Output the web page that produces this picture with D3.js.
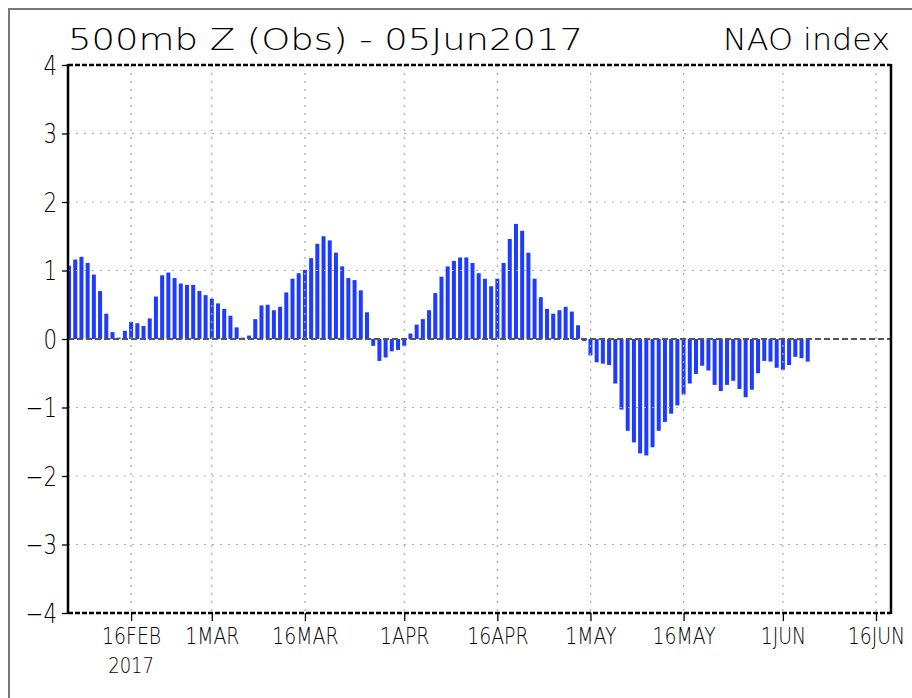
<!DOCTYPE html>
<html>
<head>
<meta charset="utf-8">
<script src="https://cdn.jsdelivr.net/npm/d3@7"></script>
<style>
  body { margin: 0; background: #fff; }
  svg { display: block; }
  text { font-family: "DejaVu Sans", sans-serif; font-weight: 200; fill: #000; }
</style>
</head>
<body>
<div id="wrapper"></div>
<script>
// daily NAO index, 6 Feb 2017 .. 5 Jun 2017
const firstDay = new Date(2017, 1, 6);
const naoValues = [
  1.07, 1.16, 1.20, 1.11, 0.94, 0.70, 0.37, 0.10, 0.02, 0.12,
  0.25, 0.23, 0.19, 0.30, 0.62, 0.93, 0.97, 0.89, 0.81, 0.79,
  0.79, 0.70, 0.64,
  // March
  0.59, 0.52, 0.44, 0.34, 0.17, 0.02, 0.05, 0.29, 0.49, 0.50,
  0.42, 0.47, 0.68, 0.88, 0.96, 1.01, 1.18, 1.39, 1.50, 1.44,
  1.26, 1.06, 0.89, 0.86, 0.71, 0.39, -0.10, -0.32, -0.27, -0.18,
  -0.16,
  // April
  -0.10, 0.08, 0.21, 0.29, 0.42, 0.67, 0.91, 1.06, 1.14, 1.19,
  1.19, 1.11, 0.96, 0.88, 0.77, 0.88, 1.11, 1.46, 1.68, 1.58,
  1.26, 0.88, 0.61, 0.44, 0.37, 0.42, 0.47, 0.40, 0.20, -0.03,
  // May
  -0.24, -0.34, -0.36, -0.38, -0.65, -1.03, -1.34, -1.51, -1.67, -1.70,
  -1.58, -1.34, -1.21, -1.09, -0.97, -0.81, -0.65, -0.51, -0.39, -0.46,
  -0.67, -0.76, -0.67, -0.61, -0.73, -0.85, -0.74, -0.50, -0.32, -0.33,
  -0.42,
  // June
  -0.45, -0.38, -0.26, -0.28, -0.33
];
const xTickDates = ['2017-02-16', '2017-03-01', '2017-03-16', '2017-04-01', '2017-04-16',
  '2017-05-01', '2017-05-16', '2017-06-01', '2017-06-16'];
const xTickLabels = ['16FEB', '1MAR', '16MAR', '1APR', '16APR', '1MAY', '16MAY', '1JUN', '16JUN'];
const yTicks = [-4, -3, -2, -1, 0, 1, 2, 3, 4];
const titleLeft = '500mb Z (Obs) - 05Jun2017';
const titleRight = 'NAO index';
const yearLabel = '2017';

const parseDay = d3.timeParse('%Y-%m-%d');
const dataset = naoValues.map((v, i) => ({ date: d3.timeDay.offset(firstDay, i), value: v }));

const dimensions = {
  width: 912,
  height: 698,
  left: 68,
  right: 891,
  top: 65,
  bottom: 613,
};

const wrapper = d3.select('#wrapper')
  .append('svg')
  .attr('width', dimensions.width)
  .attr('height', dimensions.height);

// outer gray frame
wrapper.append('rect')
  .attr('x', 9).attr('y', 9)
  .attr('width', 1000).attr('height', 1000)
  .attr('fill', 'none')
  .attr('stroke', '#777')
  .attr('stroke-width', 2);

// scales
const xScale = d3.scaleTime()
  .domain([new Date(2017, 1, 5, 20), new Date(2017, 5, 18, 10)])
  .range([dimensions.left, dimensions.right]);

const yScale = d3.scaleLinear()
  .domain([-4, 4])
  .range([dimensions.bottom, dimensions.top]);

// bars
const barWidth = 4;
wrapper.append('g')
  .selectAll('rect')
  .data(dataset)
  .enter()
  .append('rect')
  .attr('x', d => xScale(d.date) - barWidth / 2)
  .attr('width', barWidth)
  .attr('y', d => Math.min(yScale(d.value), yScale(0)))
  .attr('height', d => Math.abs(yScale(d.value) - yScale(0)))
  .attr('fill', '#1e3cff');

// grid
const grid = wrapper.append('g').attr('class', 'grid');
grid.selectAll('.vgrid')
  .data(xTickDates)
  .enter()
  .append('line')
  .attr('x1', d => xScale(parseDay(d)))
  .attr('x2', d => xScale(parseDay(d)))
  .attr('y1', dimensions.top)
  .attr('y2', dimensions.bottom)
  .attr('stroke', '#aaa')
  .attr('stroke-width', 1.2)
  .attr('stroke-dasharray', '2,6');

grid.selectAll('.hgrid')
  .data(yTicks.filter(t => t !== 0 && Math.abs(t) !== 4))
  .enter()
  .append('line')
  .attr('x1', dimensions.left)
  .attr('x2', dimensions.right)
  .attr('y1', d => yScale(d))
  .attr('y2', d => yScale(d))
  .attr('stroke', '#aaa')
  .attr('stroke-width', 1.2)
  .attr('stroke-dasharray', '2,6');

// zero line
wrapper.append('line')
  .attr('x1', dimensions.left).attr('x2', dimensions.right)
  .attr('y1', yScale(0)).attr('y2', yScale(0))
  .attr('stroke', '#555')
  .attr('stroke-width', 2)
  .attr('stroke-dasharray', '6,3');

// frame: dashed top/bottom, solid sides
[4, -4].forEach(v => {
  wrapper.append('line')
    .attr('x1', dimensions.left).attr('x2', dimensions.right)
    .attr('y1', yScale(v)).attr('y2', yScale(v))
    .attr('stroke', '#000')
    .attr('stroke-width', 2.5)
    .attr('stroke-dasharray', '5,2');
});
[dimensions.left, dimensions.right].forEach(x => {
  wrapper.append('line')
    .attr('x1', x).attr('x2', x)
    .attr('y1', dimensions.top - 1).attr('y2', dimensions.bottom + 1)
    .attr('stroke', '#000')
    .attr('stroke-width', 2.5);
});

// axes
const xAxisGenerator = d3.axisBottom(xScale)
  .tickValues(xTickDates.map(parseDay))
  .tickFormat((d, i) => xTickLabels[i])
  .tickSize(8)
  .tickPadding(5);

const xAxis = wrapper.append('g')
  .attr('transform', `translate(0,${dimensions.bottom})`)
  .call(xAxisGenerator);
xAxis.select('.domain').remove();
xAxis.selectAll('.tick line').attr('stroke', '#000').attr('stroke-width', 1.3);
xAxis.selectAll('.tick text')
  .attr('y', 31)
  .attr('dy', 0)
  .attr('transform', 'scale(0.82,1)')
  .style('font-family', '"DejaVu Sans", sans-serif')
  .style('font-weight', 200)
  .style('font-size', '23px');

const yAxisGenerator = d3.axisLeft(yScale)
  .tickValues(yTicks)
  .tickSize(6)
  .tickPadding(5);

const yAxis = wrapper.append('g')
  .attr('transform', `translate(${dimensions.left},0)`)
  .call(yAxisGenerator);
yAxis.select('.domain').remove();
yAxis.selectAll('.tick line').attr('stroke', '#000').attr('stroke-width', 1.3);
yAxis.selectAll('.tick text')
  .attr('dy', '0.36em')
  .attr('transform', 'translate(-2,0) scale(0.82,1)')
  .style('font-family', '"DejaVu Sans", sans-serif')
  .style('font-weight', 200)
  .style('font-size', '26px');

// year under first tick
const yearX = xScale(parseDay(xTickDates[0]));
wrapper.append('text')
  .attr('x', 0)
  .attr('y', 673)
  .attr('text-anchor', 'middle')
  .attr('transform', `translate(${yearX},0) scale(0.82,1)`)
  .style('font-size', '22px')
  .text(yearLabel);

// titles
wrapper.append('text')
  .attr('x', dimensions.left)
  .attr('y', 50)
  .attr('textLength', 515)
  .attr('lengthAdjust', 'spacingAndGlyphs')
  .style('font-size', '30px')
  .text(titleLeft);

wrapper.append('text')
  .attr('x', 723)
  .attr('y', 50)
  .attr('textLength', 167)
  .attr('lengthAdjust', 'spacingAndGlyphs')
  .style('font-size', '30px')
  .text(titleRight);
</script>
</body>
</html>
